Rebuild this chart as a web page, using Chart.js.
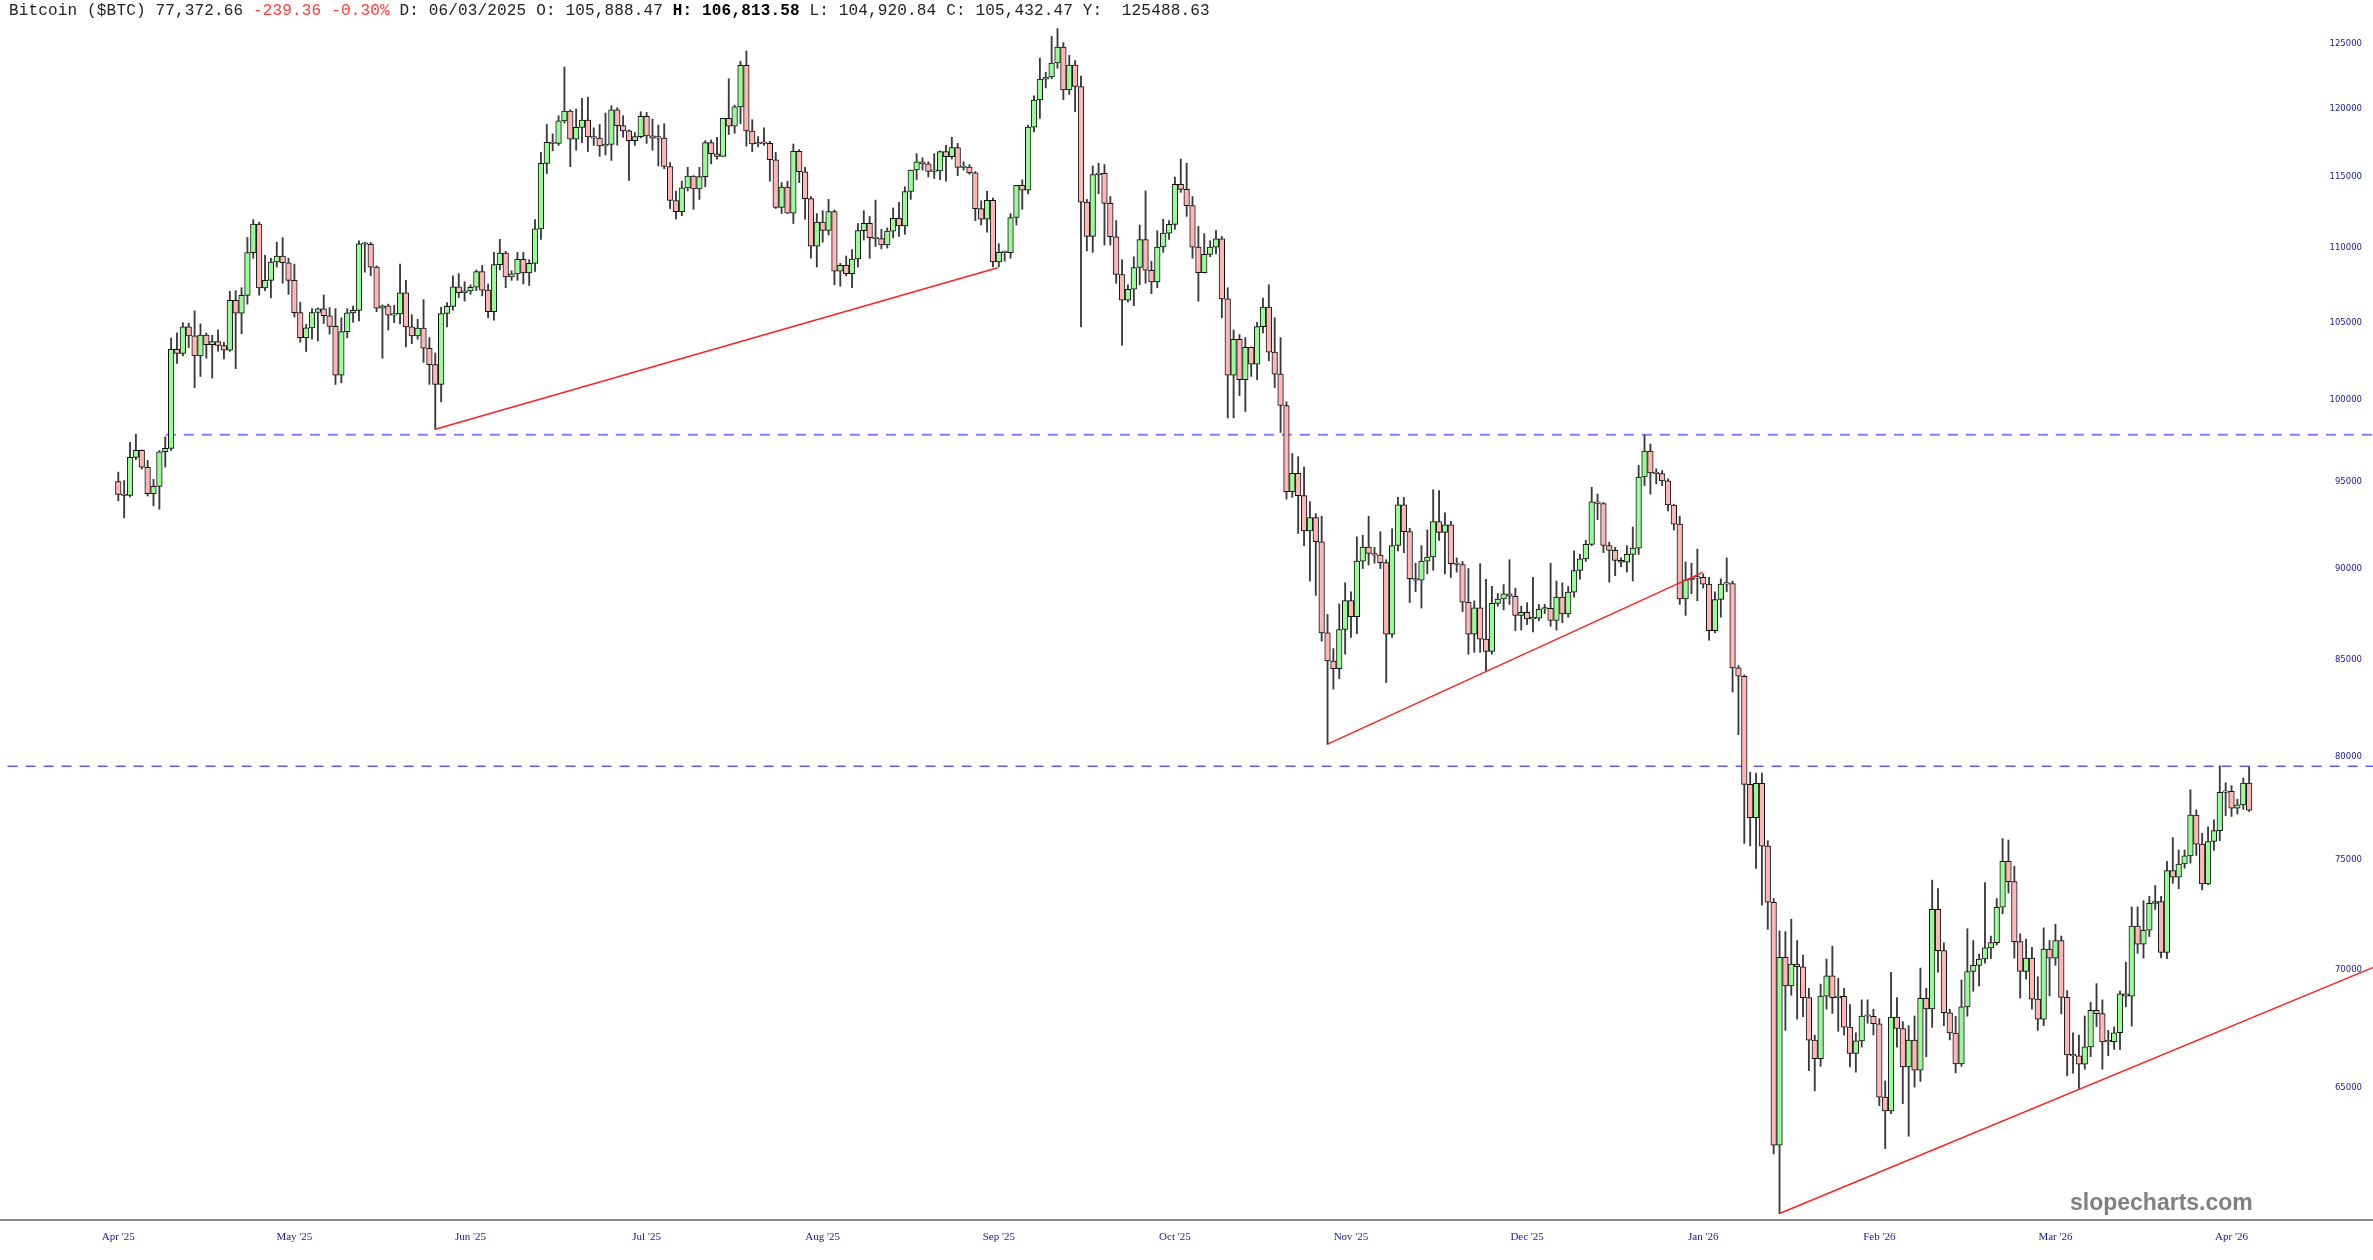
<!DOCTYPE html>
<html>
<head>
<meta charset="utf-8">
<script src="https://cdn.jsdelivr.net/npm/chart.js@4.4.1/dist/chart.umd.min.js"></script>
<style>
  html, body { margin: 0; padding: 0; background: #fff; overflow: hidden; }
  #wrap { position: relative; width: 2373px; height: 1260px; }
  #header { position: absolute; top: 2px; left: 9px; font: 16px "Liberation Mono", monospace; letter-spacing: 0.16px; color: #222; white-space: pre; }
  #header .dn { color: #ff3b3b; }
  #header b { color: #000; }
  #wm { position: absolute; left: 2070px; top: 1189px; font: bold 23px "Liberation Sans", Arial, sans-serif; color: #808080; }
</style>
</head>
<body>
<div id="wrap">
  <canvas id="btcChart" width="2373" height="1260"></canvas>
  <div id="header">Bitcoin ($BTC) 77,372.66 <span class="dn">-239.36 -0.30%</span> D: 06/03/2025 O: 105,888.47 <b>H: 106,813.58</b> L: 104,920.84 C: 105,432.47 Y:  125488.63</div>
  <div id="wm">slopecharts.com</div>
</div>
<script>
// daily candles, first one is 29 Apr 2025
const opens = [
  95030, 94280,
  94210, 96490, 96910, 95890, 94320, 94750, 96830, 97030, 103240, 102970, 104700, 104110, 102810, 104170, 103540, 103740, 103490,
  103190, 106450, 105610, 106790, 109680, 111670, 107290, 107790, 109040, 109440, 108990, 107800, 105640, 104000,
  104640, 105650, 105888, 105430, 104730, 101580, 104390, 105620, 105790, 110290, 110260, 108690, 105930, 106090, 105470,
  105550, 106950, 104700, 104110, 104630, 103310, 102260, 100990, 105580, 106050, 107360, 106960, 107090, 107330, 108390,
  107140, 105700, 108860, 109650, 108030, 108230, 109230, 108300, 108950, 111330, 115990, 117520, 117440, 119120, 119840,
  117760, 118630, 119180, 117920, 117840, 117270, 117380, 119950, 118760, 118370, 117640, 117950, 119450, 118000, 117840, 117830,
  115760, 113320, 112530, 114220, 115070, 114140, 115030, 117500, 116690, 116500, 119310, 118730, 120170, 123340, 118360,
  117400, 117490, 117450, 116250, 112830, 114270, 112420, 116870, 115380, 113460, 110120, 111800, 111220, 112540, 108410, 108810,
  108240, 109250, 111200, 111720, 110720, 110650, 110220, 111170, 112070, 111530, 113960, 115510, 116100, 115950, 115410,
  115440, 116840, 116470, 117140, 115690, 115720, 115310, 112750, 112010, 113330, 109050, 109710, 109680, 112120, 114400,
  114060, 118650, 120680, 122270, 122430, 123510, 124750, 121450, 123350, 121710, 113210, 110810, 115170, 115270, 113120,
  110780, 108190, 106470, 107200, 108670, 110590, 108480, 107690, 110070, 111030, 111640, 114470, 114120, 112960, 110060, 108310,
  109560, 110060, 110640, 106550, 101590, 103890, 101300, 103370, 102280, 104720, 106000, 103060, 101650, 99670, 94440,
  95530, 94200, 92150, 92920, 91520, 86450, 84940, 84530, 86630, 88210, 87330, 90420, 91220, 90850, 90760,
  90330, 86380, 91310, 93660, 92100, 89430, 89340, 90420, 90650, 92690, 92060, 92490, 90270, 90230, 88120,
  86380, 87810, 86110, 85450, 88060, 88300, 88580, 88450, 87390, 87570, 87210, 87250, 87750, 87790, 87120, 88400,
  87480, 88680, 89890, 90550, 91370, 93840, 93740, 91310, 91030, 90460, 90360, 90800, 91160, 95310, 96870,
  95550, 95510, 95080, 93650, 92540, 88300, 89360, 89460, 89500, 89130, 86570, 88270, 89130, 89160, 84570, 84130,
  78620, 77000, 78680, 75640, 73030, 62730, 70550, 69300, 70260, 70140, 68800, 66990, 66220, 68860, 69740,
  68800, 68850, 67540, 66430, 66960, 68010, 68000, 67680, 64640, 64090, 67960, 67480, 65880,
  66990, 65740, 68770, 68310, 72710, 70850, 68150, 67290, 66000, 68400, 69930, 70200, 70480, 70970, 71210,
  72800, 74920, 73980, 71250, 69930, 70520, 68730, 67870, 70920, 70520, 71300, 68810, 66370, 66330, 65990, 66710,
  68250, 68110, 66920, 66930, 67300, 68960, 68860, 71950, 71140, 71760, 72980, 73060, 70770, 74490, 74180,
  74800, 75180, 77130, 75740, 73870, 75860, 76380, 78230, 78280, 77460, 77620, 78690
];
const highs = [
  95600, 95100,
  97400, 97900, 96940, 96300, 95170, 96900, 97730, 103970, 104320, 104980, 104950, 105750, 104900, 104300, 104150, 104500, 103700,
  107060, 107100, 107300, 110730, 111970, 111800, 109500, 109300, 110400, 110720, 109300, 108900, 106330, 104870,
  105900, 105950, 106814, 105970, 105910, 105300, 105900, 106080, 110500, 110400, 110380, 108780, 106150, 106200, 106130,
  108900, 107800, 105500, 105200, 106500, 104000, 103000, 106000, 106300, 108100, 108250, 107700, 107500, 108500, 108800,
  107550, 109700, 110600, 109770, 108450, 109700, 109700, 109200, 111970, 116800, 118850, 118150, 119500, 123200, 119950,
  120000, 120800, 120900, 118600, 118850, 119700, 120250, 120100, 119500, 118450, 118250, 119800, 119750, 119250, 118800, 118900,
  116050, 114000, 114700, 115700, 115100, 115700, 117650, 117700, 117900, 119300, 122300, 120300, 123650, 124450, 119200,
  117950, 118600, 117600, 116800, 114600, 114700, 117400, 117000, 115700, 113600, 112400, 112600, 113400, 112650, 108950, 109450,
  109900, 111700, 112600, 112200, 113350, 111300, 111400, 112800, 113200, 114300, 115500, 116700, 116400, 116100, 116700,
  116900, 117300, 117900, 117450, 116100, 115900, 115400, 113300, 114000, 113500, 110300, 109800, 112400, 114400, 114800,
  118800, 121000, 123900, 122800, 125600, 126200, 125100, 124100, 123700, 122500, 113400, 115800, 116000, 115900, 113600,
  111900, 109200, 107500, 109400, 111600, 114000, 109100, 111200, 112000, 111900, 115000, 116300, 116000, 113600, 111500, 111000,
  110500, 111200, 110800, 107300, 104500, 104200, 104000, 103400, 105000, 106600, 107500, 105300, 104000, 99900,
  96720, 96530, 95900, 93850, 93150, 93000, 87450, 85600, 88030, 89200, 88700, 91800, 91900, 93000, 91200, 92100,
  90500, 92270, 94100, 94100, 92300, 90300, 91300, 92200, 94550, 94500, 93200, 92700, 90600, 90400, 90000,
  88200, 90270, 89400, 89000, 88600, 89100, 90500, 88900, 87900, 88100, 89500, 88000, 88000, 90300, 89300, 89200,
  89000, 91000, 90800, 91600, 94700, 94300, 93800, 91500, 91200, 90600, 91300, 92370, 96000, 97840, 97300,
  95800, 95700, 95200, 93700, 93000, 90370, 90300, 91100, 89700, 89500, 88700, 89420, 90600, 89300, 84700,
  84200, 79230, 79180, 79180, 75900, 73200, 71730, 71700, 72260, 71300, 70650, 69200, 67200, 69380, 70480,
  71050, 69640, 69200, 68500, 67300, 68700, 68700, 68300, 67900, 65300, 69890, 68800, 67770,
  67600, 68010, 70080, 69200, 74050, 73660, 71200, 68300, 68000, 69560, 71830, 71300, 70700, 73930, 71500, 73200,
  76000, 75930, 74700, 71600, 71360, 71000, 69700, 71870, 71300, 72030, 71500, 69100, 67300, 67200, 68010, 68600,
  69400, 68700, 67400, 67550, 69080, 70340, 72820, 72820, 73100, 73300, 73800, 73300, 74930, 76050, 75460,
  75460, 78360, 77380, 76250, 76560, 76900, 79540, 78700, 78560, 77900, 78940, 79500
];
const lows = [
  93900, 92900,
  94130, 96350, 95780, 94180, 93600, 93400, 95900, 96900, 102340, 102820, 103350, 100800, 101500, 102660, 101400, 103110, 102620,
  103110, 102000, 104250, 106200, 109300, 106800, 107100, 106630, 108700, 107600, 106850, 105350, 103700, 103100,
  103900, 103780, 104921, 104230, 100990, 101100, 103980, 105000, 105100, 108350, 108100, 105700, 102660, 104500, 104980,
  104900, 103400, 103600, 103900, 102400, 101000, 98200, 99900, 104700, 105800, 106630, 106400, 106850, 107100, 106750,
  105300, 105150, 108500, 107300, 107800, 107800, 107550, 107450, 108400, 110600, 115250, 116900, 117300, 118950, 115750,
  116950, 117500, 116850, 117300, 116500, 116600, 116200, 117320, 117900, 114750, 117300, 117850, 117450, 116950, 115800, 115600,
  112750, 112000, 112250, 114000, 112700, 113400, 114300, 115950, 116300, 116500, 118100, 118200, 118900, 117250, 116850,
  117200, 117300, 114700, 112750, 112400, 112400, 111700, 114600, 112000, 109300, 108700, 110400, 110900, 107500, 107400, 108100,
  107300, 108700, 110550, 109300, 110100, 109950, 110000, 110700, 110800, 110950, 113400, 114800, 115500, 115000, 114900,
  114800, 114700, 116300, 115100, 115500, 115200, 111900, 111600, 111100, 108700, 108700, 109100, 109300, 111600, 112700,
  113800, 118300, 119300, 121600, 122300, 123100, 120700, 121100, 119800, 104700, 109800, 109700, 113800, 110200, 110200,
  107600, 103500, 106350, 106100, 107500, 107600, 106900, 107300, 109700, 110600, 111300, 113900, 112200, 109300, 106400, 108300,
  109400, 109600, 105300, 98900, 98900, 100300, 99300, 101500, 101300, 104300, 102500, 100800, 98000, 94000,
  94100, 92000, 91300, 89300, 88500, 86000, 80620, 83460, 84000, 85300, 86200, 86400, 90000, 90200, 90300, 90000,
  83800, 86200, 91000, 90900, 88100, 88700, 87800, 89700, 89900, 91600, 89700, 89500, 89800, 87600, 85300,
  85400, 85400, 84400, 85300, 87900, 87700, 88000, 86570, 86600, 86900, 86500, 87100, 87500, 86800, 86600, 87000,
  87300, 88400, 89400, 90400, 91300, 92800, 90900, 89240, 89600, 90100, 89800, 89300, 90800, 94800, 94300,
  94900, 94800, 93300, 92200, 88000, 87400, 88600, 88200, 88900, 86050, 86450, 87300, 88700, 83300, 81110,
  75770, 75650, 74590, 72900, 71800, 62380, 60090, 67400, 68900, 67880, 67980, 65720, 64900, 65900, 68300,
  68120, 67360, 67200, 65880, 65660, 66700, 67700, 67210, 64300, 62590, 63980, 66700, 64380,
  63080, 65050, 65280, 66300, 67530, 69900, 67600, 67000, 65630, 65900, 68000, 69070, 69300, 70300, 70500, 71100,
  72500, 73450, 70520, 68780, 69600, 68300, 67400, 67600, 68870, 70200, 68100, 65510, 65620, 64980, 65780, 66300,
  67560, 65780, 66340, 66600, 66600, 68400, 67580, 70730, 70520, 71480, 72700, 70530, 70500, 73900, 73650,
  74600, 74840, 75200, 73600, 73840, 75440, 75900, 77100, 77060, 77180, 77400, 77300
];
const closes = [
  94280, 94210,
  96490, 96910, 95890, 94320, 94750, 96830, 97030, 103240, 102970, 104700, 104110, 102810, 104170, 103540, 103740, 103490, 103190,
  106450, 105610, 106790, 109680, 111670, 107290, 107790, 109040, 109440, 108990, 107800, 105640, 104000, 104640,
  105650, 105890, 105432, 104730, 101580, 104390, 105620, 105790, 110290, 110260, 108690, 105930, 106090, 105470, 105550,
  106950, 104700, 104110, 104630, 103310, 102260, 100990, 105580, 106050, 107360, 106960, 107090, 107330, 108390, 107140,
  105700, 108860, 109650, 108030, 108230, 109230, 108300, 108950, 111330, 115990, 117520, 117440, 119120, 119840, 117760,
  118630, 119180, 117920, 117840, 117270, 117380, 119950, 118760, 118370, 117640, 117950, 119450, 118000, 117840, 117830, 115760,
  113320, 112530, 114220, 115070, 114140, 115030, 117500, 116690, 116500, 119310, 118730, 120170, 123340, 118360, 117400,
  117490, 117450, 116250, 112830, 114270, 112420, 116870, 115380, 113460, 110120, 111800, 111220, 112540, 108410, 108810, 108240,
  109250, 111200, 111720, 110720, 110650, 110220, 111170, 112070, 111530, 113960, 115510, 116100, 115950, 115410, 115440,
  116840, 116470, 117140, 115690, 115720, 115310, 112750, 112010, 113330, 109050, 109710, 109680, 112120, 114400, 114060,
  118650, 120680, 122270, 122430, 123510, 124750, 121450, 123350, 121710, 113210, 110810, 115170, 115270, 113120, 110780,
  108190, 106470, 107200, 108670, 110590, 108480, 107690, 110070, 111030, 111640, 114470, 114120, 112960, 110060, 108310, 109560,
  110060, 110640, 106550, 101590, 103890, 101300, 103370, 102280, 104720, 106000, 103060, 101650, 99670, 94440,
  95530, 94200, 92150, 92920, 91520, 86450, 84940, 84530, 86630, 88210, 87330, 90420, 91220, 90850, 90760, 90330,
  86380, 91310, 93660, 92100, 89430, 89340, 90420, 90650, 92690, 92060, 92490, 90270, 90230, 88120, 86380,
  87810, 86110, 85450, 88060, 88300, 88580, 88450, 87390, 87570, 87210, 87250, 87750, 87790, 87120, 88400, 87480,
  88680, 89890, 90550, 91370, 93840, 93740, 91310, 91030, 90460, 90360, 90800, 91160, 95310, 96870, 95550,
  95510, 95080, 93650, 92540, 88300, 89360, 89460, 89500, 89130, 86570, 88270, 89130, 89160, 84570, 84130,
  78620, 77000, 78680, 75640, 73030, 62730, 70550, 69300, 70260, 70140, 68800, 66990, 66220, 68860, 69740,
  68800, 68850, 67540, 66430, 66960, 68010, 68000, 67680, 64640, 64090, 67960, 67480, 65880,
  66990, 65740, 68770, 68310, 72710, 70850, 68150, 67290, 66000, 68400, 69930, 70200, 70480, 70970, 71210, 72800,
  74920, 73980, 71250, 69930, 70520, 68730, 67870, 70920, 70520, 71300, 68810, 66370, 66330, 65990, 66710, 68250,
  68110, 66920, 66930, 67300, 68960, 68860, 71950, 71140, 71760, 72980, 73060, 70770, 74490, 74180, 74800,
  75180, 77130, 75740, 73870, 75860, 76380, 78230, 78280, 77460, 77620, 78690, 77370
];

// month labels sit every 30 candles
const tickIdx = [0, 30, 60, 90, 120, 150, 180, 210, 240, 270, 300, 330, 360];
const tickLabels = ["Apr '25", "May '25", "Jun '25", "Jul '25", "Aug '25", "Sep '25", "Oct '25",
                    "Nov '25", "Dec '25", "Jan '26", "Feb '26", "Mar '26", "Apr '26"];
const priceTicks = [65000, 70000, 75000, 80000, 85000, 90000, 95000, 100000, 105000, 110000, 115000, 120000, 125000];

// drawn levels: [startIdx, startPrice, endIdx, endPrice]
const resistTop = [8.1, 97860, 390, 97860];
const resistLow = [-25, 79520, 390, 79520];
const trendA = [54, 98200, 149.8, 108650];
const trendB = [206, 80630, 269.9, 89780];
const trendC = [282.9, 60090, 385, 70200];

const up = '#98fb98', down = '#ffb6b6';
var fills = opens.map((o, i) => closes[i] >= o ? up : down);

function seg(s) {
    return [{x: s[0], y: s[1]}, {x: s[2], y: s[3]}];
}

// no extra padding round the plot, the axes sit on its edges
function noPad(scale) {
    scale.paddingTop = 0;
    scale.paddingBottom = 0;
    scale.paddingLeft = 0;
    scale.paddingRight = 0;
}

var ctx = document.getElementById('btcChart').getContext('2d');
var chart = new Chart(ctx, {
    type: 'bar',
    data: {
        datasets: [{
            type: 'line',
            data: seg(resistTop),
            borderColor: 'rgba(95,95,255,0.8)',
            borderWidth: 2,
            borderDash: [10, 8],
            pointRadius: 0,
            order: 4
        },
        {
            type: 'line',
            data: seg(resistLow),
            borderColor: 'rgba(60,60,255,0.85)',
            borderWidth: 1.6,
            borderDash: [10, 8],
            pointRadius: 0,
            order: 4
        },
        {
            // wicks
            data: lows.map((l, i) => ({x: i, y: [l, highs[i]]})),
            backgroundColor: '#3a3a3a',
            borderWidth: 0,
            barThickness: 1.2,
            grouped: false,
            order: 3
        },
        {
            // bodies
            data: opens.map((o, i) => ({x: i, y: [o, closes[i]]})),
            backgroundColor: fills,
            borderColor: '#111',
            borderWidth: 1,
            borderSkipped: false,
            barThickness: 5.6,
            minBarLength: 1.5,
            grouped: false,
            order: 2
        },
        {
            type: 'line',
            data: seg(trendA),
            borderColor: '#ff2020',
            borderWidth: 1.4,
            pointRadius: 0,
            order: 0
        },
        {
            type: 'line',
            data: seg(trendB),
            borderColor: '#ff2020',
            borderWidth: 1.4,
            pointRadius: 0,
            order: 0
        },
        {
            type: 'line',
            data: seg(trendC),
            borderColor: '#ff2020',
            borderWidth: 1.4,
            pointRadius: 0,
            order: 0
        }]
    },
    options: {
        responsive: false,
        animation: false,
        events: [],
        layout: { padding: 0 },
        scales: {
            x: {
                type: 'linear',
                min: -20.15,
                max: 384.1,
                offset: false,
                grid: { display: false, drawTicks: false },
                border: { display: true, color: '#888', width: 2 },
                afterBuildTicks: function(scale) {
                    scale.ticks = tickIdx.map(v => ({ value: v }));
                },
                afterFit: function(scale) {
                    scale.height = 40;
                    noPad(scale);
                },
                ticks: {
                    autoSkip: false,
                    maxRotation: 0,
                    padding: 11,
                    color: '#1a1a8c',
                    font: { family: '"Liberation Serif", serif', size: 11 },
                    callback: function(value) {
                        var k = tickIdx.indexOf(value);
                        return k >= 0 ? tickLabels[k] : '';
                    }
                }
            },
            y: {
                type: 'logarithmic',
                position: 'right',
                min: 59855,
                max: 128480,
                grid: { display: false, drawTicks: false },
                border: { display: false },
                afterBuildTicks: function(scale) {
                    scale.ticks = priceTicks.map(v => ({ value: v }));
                },
                afterFit: function(scale) {
                    scale.width = 0;
                    noPad(scale);
                },
                ticks: {
                    mirror: true,
                    padding: -11,
                    color: '#1a1a8c',
                    font: { family: '"DejaVu Sans", sans-serif', size: 8.5 },
                    callback: function(value) { return String(value); }
                }
            }
        },
        plugins: {
            legend: { display: false },
            tooltip: { enabled: false }
        }
    }
});
</script>
</body>
</html>
